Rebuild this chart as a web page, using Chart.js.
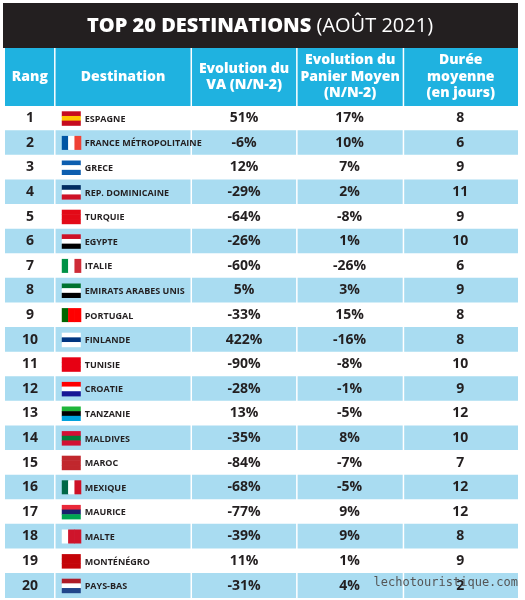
<!DOCTYPE html>
<html><head><meta charset="utf-8">
<script src="https://cdn.jsdelivr.net/npm/chart.js@4"></script>
<style>html,body{margin:0;padding:0;background:#fff}#w{width:525px;height:600px}</style>
</head><body><div id="w"><canvas id="c"></canvas></div>
<script>
const ranks=['1','2','3','4','5','6','7','8','9','10','11','12','13','14','15','16','17','18','19','20'];
const destinations=['ESPAGNE','FRANCE MÉTROPOLITAINE','GRECE','REP. DOMINICAINE','TURQUIE','EGYPTE','ITALIE','EMIRATS ARABES UNIS','PORTUGAL','FINLANDE','TUNISIE','CROATIE','TANZANIE','MALDIVES','MAROC','MEXIQUE','MAURICE','MALTE','MONTÉNÉGRO','PAYS-BAS'];
const evolVA=[51,-6,12,-29,-64,-26,-60,5,-33,422,-90,-28,13,-35,-84,-68,-77,-39,11,-31];
const evolPanier=[17,10,7,2,-8,1,-26,3,15,-16,-8,-1,-5,8,-7,-5,9,9,1,4];
const duree=[8,6,9,11,9,10,6,9,8,8,10,9,12,10,7,12,12,8,9,2];
const flagColors=[['#c60b1e','#ffc400','#c60b1e'],['v','#0055a4','#fff','#ef4135'],['#0d5eaf','#fff','#0d5eaf'],['#002d62','#fff','#ce1126'],['#e30a17','#e30a17','#e30a17'],['#ce1126','#fff','#000'],['v','#009246','#fff','#ce2b37'],['#00732f','#fff','#000'],['v','#006600','#ff0000','#ff0000'],['#fff','#003580','#fff'],['#e70013','#e70013','#e70013'],['#ff0000','#fff','#171796'],['#1eb53a','#000','#00a3dd'],['#d21034','#007e3a','#d21034'],['#c1272d','#c1272d','#c1272d'],['v','#006847','#fff','#ce1126'],['#ea2839','#1a206d','#00a551'],['v','#fff','#cf142b','#cf142b'],['#c40308','#c40308','#c40308'],['#ae1c28','#fff','#21468b']];
const colX=[0,50,187,293,400,515];
const headers=[['Rang'],['Destination'],['Evolution du','VA (N/N-2)'],['Evolution du','Panier Moyen','(N/N-2)'],['Durée','moyenne','(en jours)']];
const pct=v=>v+'%';
const F='"Open Sans", "DejaVu Sans", sans-serif';
const plugin={id:'tbl',
beforeDatasetsDraw(ch){const {ctx,scales:{x,y},chartArea:a}=ch;
 ctx.save();ctx.fillStyle='#231f20';ctx.fillRect(3,3,515,45);
 ctx.fillStyle='#1fb2e0';ctx.fillRect(x.getPixelForValue(0),48,x.getPixelForValue(515)-x.getPixelForValue(0),58);
 ctx.textAlign='center';ctx.textBaseline='middle';ctx.fillStyle='#fff';
 ctx.font='800 20px '+F;const t1='TOP 20 DESTINATIONS ',t2='(AOÛT 2021)';
 const w1=ctx.measureText(t1).width;ctx.font='400 20px '+F;const w2=ctx.measureText(t2).width;
 let sx=260-(w1+w2)/2;ctx.textAlign='left';ctx.font='800 20px '+F;ctx.fillText(t1,sx,26);ctx.font='400 20px '+F;ctx.fillText(t2,sx+w1,26);
 ctx.textAlign='center';ctx.font='800 14px '+F;
 headers.forEach((h,i)=>{const cx=x.getPixelForValue((colX[i]+colX[i+1])/2);const n=h.length;h.forEach((l,j)=>ctx.fillText(l,cx,77+(j-(n-1)/2)*16.5));});
 ctx.restore();},
afterDatasetsDraw(ch){const {ctx,scales:{x,y},chartArea:a}=ch;ctx.save();
 ctx.strokeStyle='#fff';ctx.lineWidth=1.5;
 for(let i=1;i<5;i++){const px=x.getPixelForValue(colX[i]);ctx.beginPath();ctx.moveTo(px,48);ctx.lineTo(px,a.bottom);ctx.stroke();}
 ctx.textBaseline='middle';
 ranks.forEach((r,i)=>{const py=y.getPixelForValue(i);ctx.fillStyle='#231f20';ctx.textAlign='center';ctx.font='700 14px '+F;
  ctx.fillText(r,x.getPixelForValue(25),py);
  ctx.fillText(pct(evolVA[i]),x.getPixelForValue(240),py);
  ctx.fillText(pct(evolPanier[i]),x.getPixelForValue(346),py);
  ctx.fillText(String(duree[i]),x.getPixelForValue(457),py);
  ctx.textAlign='left';ctx.font='700 9px '+F;ctx.fillText(destinations[i],x.getPixelForValue(80),py+1);
  const fx=x.getPixelForValue(57),fy=py-7,fw=19,fh=14,c=flagColors[i];
  if(c[0]==='v'){for(let k=0;k<3;k++){ctx.fillStyle=c[k+1];ctx.fillRect(fx+k*fw/3,fy,fw/3+0.5,fh);}}
  else{for(let k=0;k<3;k++){ctx.fillStyle=c[k];ctx.fillRect(fx,fy+k*fh/3,fw,fh/3+0.5);}}
 });
 ctx.fillStyle='#555';ctx.font='12px "DejaVu Sans Mono", monospace';ctx.textAlign='right';ctx.fillText('lechotouristique.com',518,y.getPixelForValue(19)-3);
 ctx.restore();}};
new Chart(document.getElementById('c'),{type:'bar',
data:{labels:ranks,datasets:[{data:ranks.map(()=>[0,515]),backgroundColor:ranks.map((r,i)=>i%2?'#a9dcf1':'#ffffff'),categoryPercentage:1,barPercentage:1,borderWidth:0}]},
options:{indexAxis:'y',responsive:true,maintainAspectRatio:false,animation:false,
layout:{padding:{top:106,left:5,right:7,bottom:2}},
plugins:{legend:{display:false},tooltip:{enabled:false}},
scales:{x:{type:'linear',min:0,max:515,display:false},y:{display:false,grid:{display:false}}}},
plugins:[plugin]});
</script></body></html>
